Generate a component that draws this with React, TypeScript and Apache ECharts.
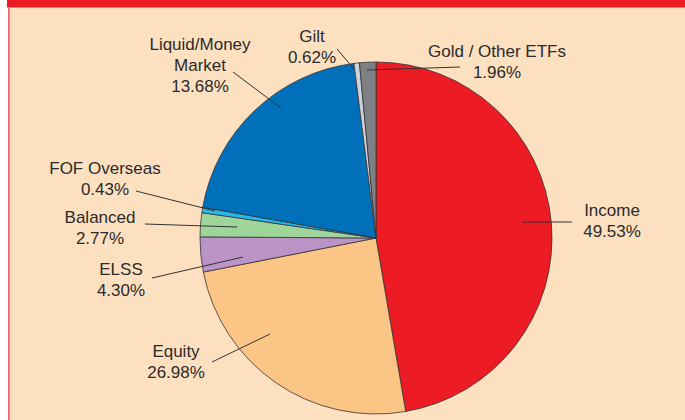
import React, { useEffect, useRef } from "react";
import * as echarts from "echarts";

// Category names as printed (line breaks as in the picture)
const categories = [
  "Income",
  "Equity",
  "ELSS",
  "Balanced",
  "FOF Overseas",
  "Liquid/Money\nMarket",
  "Gilt",
  "Gold / Other ETFs",
];
// Percentages printed on the labels
const labelPercents = ["49.53%", "26.98%", "4.30%", "2.77%", "0.43%", "13.68%", "0.62%", "1.96%"];
// Slice sizes as drawn in the picture (share of the full circle, %)
const sliceShares = [47.3, 24.6, 3.2, 2.2, 0.5, 20.2, 0.5, 1.5];
const sliceColors = ["#ED1C24", "#FBC585", "#BB93C6", "#9FD49B", "#27B9EC", "#0070BA", "#CDD3DD", "#7F8083"];

// Label layout (pixel positions of label block centres and leader lines)
const labelCenters = [
  [612, 221],
  [176, 362],
  [121, 280],
  [100, 228],
  [105, 179],
  [200, 65],
  [312, 47],
  [497, 62],
];
const leaderLines = [
  [[522, 222], [572, 222]],
  [[212, 362], [270, 334]],
  [[152, 278], [243, 257]],
  [[145, 224], [237, 227]],
  [[136, 191], [215, 211]],
  [[233, 72], [281, 108]],
  [[337, 49], [354, 69]],
  [[460, 67], [367, 70]],
];

export default function App() {
  const ref = useRef<HTMLDivElement>(null);
  useEffect(() => {
    if (!ref.current) return;
    const chart = echarts.init(ref.current, null, { renderer: "svg" });
    const font = "'Liberation Sans', Arial, Helvetica, sans-serif";
    const common = {
      type: "pie",
      center: [376, 238],
      radius: 176,
      startAngle: 90,
      clockwise: true,
      avoidLabelOverlap: false,
      emphasis: { disabled: true },
    };
    chart.setOption({
      animation: false,
      backgroundColor: "#FDE0C0",
      graphic: [
        { type: "rect", shape: { x: 0, y: 0, width: 8, height: 420 }, style: { fill: "#ffffff" }, silent: true },
        { type: "rect", shape: { x: 7, y: 0, width: 678, height: 7.5 }, style: { fill: "#ED1C24" }, silent: true },
        { type: "rect", shape: { x: 8, y: 7.5, width: 1.8, height: 413 }, style: { fill: "#F06A72" }, silent: true },
      ],
      series: [
        {
          ...common,
          z: 2,
          data: categories.map((name, i) => ({
            name,
            value: sliceShares[i],
            itemStyle: { color: sliceColors[i] },
          })),
          itemStyle: { borderColor: "#333333", borderWidth: 0.8 },
          label: { show: false },
          labelLine: { show: false },
        },
        {
          ...common,
          z: 5,
          silent: true,
          data: categories.map((name, i) => ({ name, value: sliceShares[i] })),
          itemStyle: { color: "rgba(0,0,0,0)", borderWidth: 0 },
          label: {
            show: true,
            position: "outside",
            formatter: (p: any) => `${categories[p.dataIndex]}\n${labelPercents[p.dataIndex]}`,
            fontFamily: font,
            fontSize: 17,
            lineHeight: 21,
            color: "#2B2B2B",
            align: "center",
          },
          labelLine: {
            show: true,
            length: 0,
            length2: 0,
            lineStyle: { color: "#333333", width: 1 },
          },
          labelLayout: (params: any) => {
            const i = params.dataIndex;
            return {
              x: labelCenters[i][0],
              y: labelCenters[i][1],
              align: "center",
              verticalAlign: "middle",
              labelLinePoints: leaderLines[i],
            };
          },
        },
      ],
    });
    return () => chart.dispose();
  }, []);
  return (
    <div
      ref={ref}
      style={{ position: "fixed", left: 0, top: 0, width: 685, height: 420 }}
    />
  );
}
